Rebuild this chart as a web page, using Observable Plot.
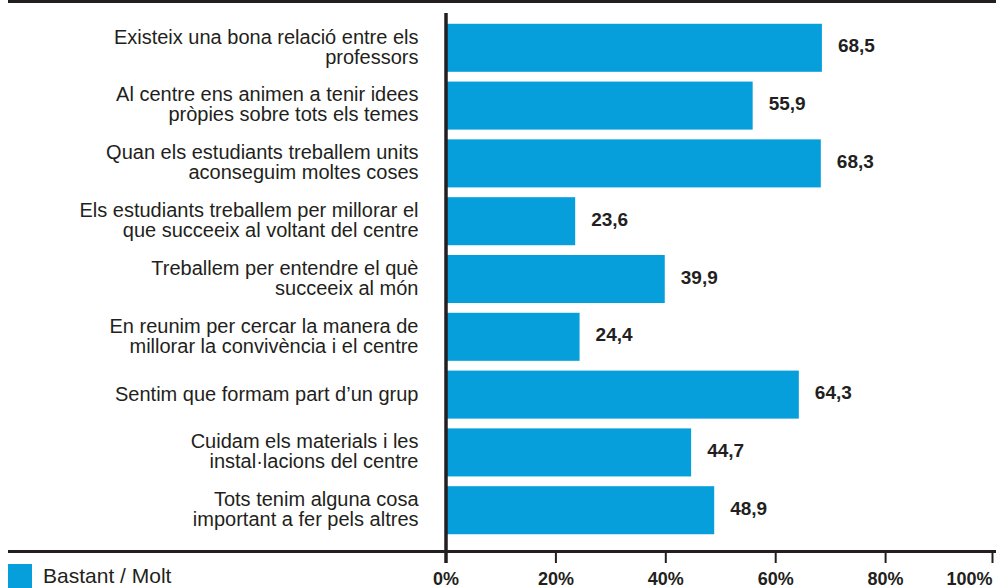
<!DOCTYPE html>
<html><head><meta charset="utf-8">
<script src="https://cdn.jsdelivr.net/npm/d3@7"></script>
<script src="https://cdn.jsdelivr.net/npm/@observablehq/plot@0.6"></script>
<style>
body{margin:0;background:#fff;}
#wrap{position:relative;width:996px;height:588px;overflow:hidden;font-family:"Liberation Sans",Arial,Helvetica,sans-serif;color:#231f20;background:#fff;}
#wrap svg{position:absolute;left:0;top:0;}
.rule{position:absolute;background:#231f20;}
#legend{position:absolute;left:8px;top:564px;display:flex;align-items:flex-start;}
#legend .sw{width:24px;height:24px;background:#079fdb;}
#legend .lb{margin-left:11px;margin-top:5px;font-size:21px;line-height:14px;white-space:nowrap;}
</style></head><body>
<div id="wrap"></div>
<script>
const categories = [
  "Existeix una bona relació entre els\nprofessors",
  "Al centre ens animen a tenir idees\npròpies sobre tots els temes",
  "Quan els estudiants treballem units\naconseguim moltes coses",
  "Els estudiants treballem per millorar el\nque succeeix al voltant del centre",
  "Treballem per entendre el què\nsucceeix al món",
  "En reunim per cercar la manera de\nmillorar la convivència i el centre",
  "Sentim que formam part d’un grup",
  "Cuidam els materials i les\ninstal·lacions del centre",
  "Tots tenim alguna cosa\nimportant a fer pels altres"
];
const values = [68.5, 55.9, 68.3, 23.6, 39.9, 24.4, 64.3, 44.7, 48.9];
const tickValues = [0, 20, 40, 60, 80, 100];
const seriesName = "Bastant / Molt";

const data = categories.map((c, i) => ({category: c, value: values[i]}));
const fmt = v => d3.format(".1f")(v).replace(".", ",");
const ink = "#231f20";
const blue = "#079fdb";

const axisCommon = {
  anchor: "bottom", tickSize: 12, strokeWidth: 2, stroke: ink, tickPadding: 9,
  fontSize: 18, fontWeight: "bold", fill: ink, tickFormat: d => d + "%", label: null
};

const chart = Plot.plot({
  width: 996, height: 588,
  marginLeft: 445.5, marginRight: 1, marginTop: 14, marginBottom: 37,
  style: {fontFamily: '"Liberation Sans", Arial, Helvetica, sans-serif', color: ink, background: "transparent", overflow: "visible"},
  x: {domain: [0, 100]},
  y: {domain: categories, padding: 0.169, insetBottom: 7, round: false, axis: null},
  marks: [
    Plot.barX(data, {x: "value", y: "category", fill: blue}),
    Plot.ruleX([0], {stroke: ink, strokeWidth: 3.5, insetTop: -1, insetBottom: -12}),
    Plot.text(data, {x: 0, y: "category", text: "category", textAnchor: "end", dx: -27.5, dy: -1, fontSize: 20, lineHeight: 1.0, fill: ink}),
    Plot.text(data, {x: "value", y: "category", text: d => fmt(d.value), textAnchor: "start", dx: 15.5, dy: -2, fontSize: 19, fontWeight: "bold", fill: ink}),
    Plot.axisX(tickValues.slice(0, -1), axisCommon),
    Plot.axisX(tickValues.slice(-1), {...axisCommon, textAnchor: "end", dx: -3})
  ]
});

const wrap = document.getElementById("wrap");
wrap.appendChild(chart);
const topRule = document.createElement("div");
topRule.className = "rule";
Object.assign(topRule.style, {left: "8px", top: "0px", width: "988px", height: "2.5px"});
wrap.appendChild(topRule);
const baseRule = document.createElement("div");
baseRule.className = "rule";
Object.assign(baseRule.style, {left: "8px", top: "549.5px", width: "988px", height: "3.2px"});
wrap.appendChild(baseRule);
const legend = document.createElement("div");
legend.id = "legend";
legend.innerHTML = `<div class="sw"></div><div class="lb"></div>`;
legend.querySelector(".lb").textContent = seriesName;
wrap.appendChild(legend);
</script>
</body></html>
